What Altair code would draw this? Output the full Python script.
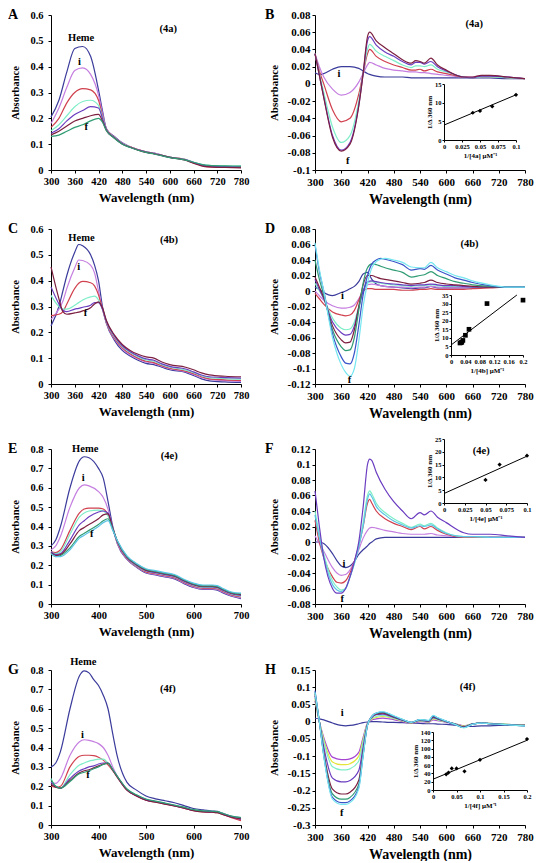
import altair as alt
import pandas as pd

FONT = "Liberation Serif"

# ---------------- Panel A (4a absolute spectra) ----------------
A_WL = [300,320,340,360,380,400,420,430,440,460,480,500,540,560,600,640,660,680,700,740,780]
A_HEME = [0.205,0.27,0.38,0.47,0.478,0.44,0.31,0.23,0.16,0.13,0.105,0.09,0.07,0.065,0.05,0.04,0.03,0.02,0.015,0.012,0.012]
A_I = [0.18,0.24,0.32,0.385,0.395,0.37,0.29,0.22,0.16,0.128,0.104,0.09,0.07,0.065,0.05,0.04,0.028,0.02,0.015,0.012,0.01]
A_RED = [0.165,0.2,0.26,0.3,0.315,0.31,0.27,0.21,0.158,0.127,0.103,0.09,0.07,0.064,0.05,0.04,0.027,0.018,0.012,0.01,0.01]
A_MINT = [0.152,0.175,0.21,0.245,0.265,0.27,0.25,0.205,0.156,0.126,0.103,0.089,0.069,0.064,0.05,0.04,0.03,0.022,0.018,0.016,0.015]
A_PURPLE = [0.142,0.16,0.19,0.215,0.23,0.245,0.24,0.2,0.155,0.125,0.102,0.088,0.069,0.063,0.049,0.039,0.028,0.02,0.015,0.013,0.012]
A_MAROON = [0.136,0.15,0.17,0.19,0.2,0.21,0.215,0.19,0.153,0.124,0.101,0.088,0.068,0.063,0.049,0.038,0.026,0.016,0.012,0.01,0.008]
A_TEAL = [0.13,0.135,0.15,0.165,0.175,0.19,0.2,0.185,0.152,0.123,0.1,0.087,0.068,0.062,0.048,0.038,0.03,0.022,0.018,0.016,0.015]
A_NOTE_T = ["Heme", "i", "f", "(4a)"]
A_NOTE_X = [376, 372, 389, 596]
A_NOTE_Y = [0.51, 0.418, 0.167, 0.546]

# ---------------- Panel B (4a difference spectra) ----------------
B_WL = [300,310,320,340,360,380,400,410,420,425,440,460,480,500,520,530,540,550,565,580,600,640,660,680,700,740,780]
B_I = [0.013,0.011,0.012,0.017,0.02,0.02,0.018,0.015,0.012,0.011,0.009,0.008,0.008,0.008,0.007,0.007,0.007,0.007,0.007,0.007,0.007,0.007,0.007,0.007,0.007,0.006,0.006]
B_ORCHID = [0.035,0.02,0.008,-0.006,-0.013,-0.01,0.002,0.012,0.022,0.025,0.022,0.018,0.016,0.015,0.014,0.014,0.013,0.013,0.012,0.011,0.01,0.008,0.008,0.009,0.009,0.008,0.006]
B_RED = [0.035,0.015,0.0,-0.03,-0.044,-0.04,-0.012,0.012,0.035,0.04,0.032,0.026,0.022,0.019,0.016,0.016,0.017,0.015,0.017,0.014,0.012,0.008,0.007,0.008,0.008,0.007,0.006]
B_MINT = [0.035,0.012,-0.01,-0.05,-0.068,-0.06,-0.02,0.012,0.04,0.046,0.038,0.032,0.027,0.022,0.019,0.021,0.021,0.02,0.022,0.017,0.014,0.008,0.007,0.008,0.008,0.007,0.006]
B_PURPLE = [0.035,0.01,-0.015,-0.06,-0.077,-0.068,-0.025,0.012,0.05,0.055,0.045,0.037,0.032,0.026,0.022,0.025,0.025,0.023,0.026,0.02,0.015,0.008,0.007,0.009,0.009,0.008,0.006]
B_MAROON = [0.035,0.01,-0.016,-0.062,-0.078,-0.07,-0.026,0.012,0.055,0.06,0.05,0.042,0.035,0.028,0.024,0.027,0.026,0.024,0.03,0.022,0.016,0.008,0.008,0.01,0.01,0.008,0.006]
B_NOTE_T = ["i", "f", "(4a)"]
B_NOTE_X = [355, 375, 664]
B_NOTE_Y = [0.012, -0.089, 0.07]
B_IN_X = [0.04, 0.05, 0.067, 0.1]
B_IN_Y = [7.3, 7.8, 9.0, 12.1]
B_FIT_X = [0.0, 0.1]
B_FIT_Y = [4.0, 12.1]

# ---------------- Panel C (4b absolute) ----------------
C_WL = [300,320,330,340,360,370,380,400,410,420,430,440,460,480,500,520,540,560,580,600,640,660,680,700,740,780]
C_HEME = [0.225,0.3,0.36,0.42,0.51,0.54,0.535,0.5,0.46,0.4,0.3,0.235,0.17,0.13,0.108,0.092,0.08,0.075,0.065,0.055,0.045,0.033,0.02,0.012,0.008,0.006]
C_I = [0.25,0.29,0.32,0.37,0.45,0.48,0.478,0.46,0.43,0.36,0.29,0.235,0.175,0.136,0.113,0.097,0.085,0.08,0.069,0.059,0.048,0.037,0.025,0.018,0.013,0.01]
C_RED = [0.265,0.27,0.28,0.31,0.37,0.39,0.397,0.392,0.38,0.345,0.29,0.237,0.178,0.14,0.117,0.1,0.088,0.083,0.071,0.061,0.05,0.04,0.028,0.02,0.016,0.014]
C_MINT = [0.343,0.3,0.29,0.29,0.305,0.315,0.325,0.337,0.34,0.325,0.29,0.24,0.183,0.145,0.122,0.105,0.093,0.088,0.075,0.065,0.054,0.044,0.032,0.025,0.021,0.019]
C_PURPLE = [0.376,0.31,0.285,0.28,0.29,0.293,0.297,0.305,0.315,0.315,0.29,0.242,0.186,0.148,0.125,0.109,0.097,0.092,0.078,0.068,0.058,0.047,0.035,0.028,0.025,0.023]
C_MAROON = [0.453,0.33,0.28,0.27,0.275,0.278,0.283,0.295,0.31,0.318,0.295,0.246,0.19,0.153,0.13,0.115,0.105,0.1,0.085,0.075,0.065,0.055,0.043,0.035,0.03,0.028]
C_NOTE_T = ["Heme", "i", "f", "(4b)"]
C_NOTE_X = [377, 370, 387, 598]
C_NOTE_Y = [0.564, 0.454, 0.275, 0.557]

# ---------------- Panel D (4b difference) ----------------
D_WL = [300,310,320,340,360,370,380,390,400,410,420,430,440,450,460,480,500,520,540,550,565,580,600,620,640,660,700,740,780]
D_I = [0.005,0.002,-0.002,-0.006,-0.002,0.0,0.003,0.006,0.012,0.022,0.024,0.015,0.009,0.007,0.006,0.005,0.004,0.003,0.004,0.004,0.006,0.004,0.004,0.004,0.004,0.004,0.005,0.005,0.005]
D_ORCHID = [0.0,-0.006,-0.012,-0.019,-0.022,-0.022,-0.021,-0.018,-0.01,0.0,0.008,0.009,0.008,0.007,0.006,0.005,0.005,0.004,0.005,0.005,0.006,0.005,0.004,0.004,0.004,0.004,0.005,0.005,0.005]
D_RED = [-0.003,-0.01,-0.017,-0.027,-0.031,-0.032,-0.031,-0.025,-0.012,0.0,0.003,0.003,0.002,0.002,0.002,0.002,0.001,0.001,0.002,0.002,0.003,0.002,0.002,0.002,0.002,0.003,0.004,0.005,0.005]
D_MINT = [0.01,0.0,-0.01,-0.035,-0.048,-0.05,-0.049,-0.04,-0.02,0.0,0.01,0.012,0.011,0.01,0.009,0.008,0.007,0.006,0.007,0.007,0.008,0.007,0.006,0.006,0.006,0.005,0.005,0.005,0.005]
D_PURPLE = [0.015,0.002,-0.01,-0.04,-0.054,-0.057,-0.056,-0.045,-0.022,0.0,0.012,0.013,0.012,0.011,0.01,0.009,0.008,0.007,0.008,0.008,0.009,0.008,0.007,0.007,0.006,0.005,0.005,0.005,0.005]
D_MAROON = [0.018,0.005,-0.008,-0.045,-0.063,-0.067,-0.066,-0.05,-0.02,0.008,0.02,0.02,0.018,0.016,0.015,0.013,0.011,0.009,0.01,0.011,0.014,0.011,0.009,0.008,0.007,0.006,0.005,0.005,0.005]
D_TEAL = [0.04,0.015,-0.005,-0.05,-0.072,-0.077,-0.076,-0.06,-0.025,0.01,0.03,0.035,0.034,0.032,0.03,0.027,0.024,0.018,0.02,0.021,0.025,0.02,0.016,0.012,0.01,0.008,0.006,0.005,0.005]
D_BLUE = [0.06,0.025,0.0,-0.055,-0.085,-0.093,-0.094,-0.08,-0.045,-0.005,0.02,0.035,0.04,0.042,0.041,0.038,0.034,0.027,0.029,0.028,0.033,0.027,0.022,0.017,0.014,0.011,0.007,0.005,0.005]
D_CYAN = [0.062,0.028,0.0,-0.06,-0.095,-0.105,-0.11,-0.1,-0.065,-0.02,0.01,0.03,0.038,0.041,0.042,0.04,0.037,0.031,0.03,0.03,0.037,0.03,0.025,0.02,0.017,0.013,0.008,0.005,0.005]
D_NOTE_T = ["i", "f", "(4b)"]
D_NOTE_X = [363, 379, 653]
D_NOTE_Y = [-0.007, -0.115, 0.061]
D_IN_X = [0.025, 0.028, 0.03, 0.033, 0.04, 0.05, 0.1, 0.2]
D_IN_Y = [7.0, 7.2, 7.5, 8.5, 11.5, 15.0, 30.0, 32.0]
D_FIT_X = [0.0, 0.183]
D_FIT_Y = [5.8, 35.0]

# ---------------- Panel E (4e absolute) ----------------
E_WL = [300,310,320,340,360,370,380,400,410,420,430,440,460,480,500,520,540,560,580,600,620,640,650,660,680,700]
E_HEME = [0.3,0.33,0.4,0.6,0.74,0.76,0.755,0.7,0.65,0.53,0.4,0.31,0.23,0.19,0.16,0.15,0.14,0.13,0.105,0.085,0.075,0.075,0.072,0.06,0.04,0.028]
E_I = [0.28,0.3,0.35,0.5,0.6,0.615,0.61,0.58,0.55,0.49,0.39,0.31,0.232,0.192,0.163,0.153,0.143,0.133,0.108,0.088,0.078,0.078,0.075,0.063,0.043,0.032]
E_RED = [0.27,0.265,0.28,0.38,0.47,0.49,0.495,0.495,0.49,0.46,0.39,0.315,0.235,0.195,0.166,0.156,0.146,0.136,0.112,0.092,0.082,0.082,0.079,0.067,0.047,0.036]
E_MINT = [0.27,0.26,0.27,0.36,0.45,0.47,0.48,0.485,0.48,0.455,0.39,0.318,0.238,0.198,0.17,0.16,0.15,0.14,0.116,0.096,0.086,0.086,0.083,0.071,0.051,0.041]
E_PURPLE = [0.27,0.255,0.26,0.33,0.41,0.43,0.45,0.475,0.48,0.47,0.39,0.32,0.24,0.2,0.172,0.162,0.152,0.142,0.118,0.098,0.088,0.088,0.085,0.073,0.053,0.044]
E_MAROON = [0.265,0.25,0.255,0.31,0.38,0.395,0.41,0.44,0.46,0.465,0.39,0.322,0.242,0.203,0.175,0.165,0.155,0.145,0.121,0.101,0.091,0.091,0.088,0.076,0.056,0.048]
E_TEAL = [0.26,0.245,0.25,0.29,0.35,0.365,0.38,0.41,0.43,0.44,0.385,0.324,0.245,0.206,0.178,0.168,0.158,0.148,0.124,0.104,0.094,0.094,0.091,0.079,0.059,0.052]
E_LBLUE = [0.26,0.245,0.245,0.28,0.34,0.355,0.37,0.4,0.42,0.43,0.38,0.326,0.248,0.209,0.182,0.172,0.162,0.152,0.128,0.108,0.098,0.098,0.095,0.083,0.062,0.056]
E_NOTE_T = ["Heme", "i", "f", "(4e)"]
E_NOTE_X = [372, 368, 386, 549]
E_NOTE_Y = [0.8, 0.652, 0.36, 0.763]

# ---------------- Panel F (4e difference) ----------------
F_WL = [300,310,320,340,350,360,370,380,390,400,410,420,425,430,440,460,480,500,520,540,550,565,580,600,640,660,700,740,780]
F_I = [0.0,0.0,-0.002,-0.015,-0.024,-0.031,-0.033,-0.031,-0.025,-0.016,-0.01,-0.005,-0.002,0.0,0.004,0.006,0.006,0.006,0.006,0.006,0.006,0.006,0.006,0.006,0.006,0.006,0.006,0.006,0.006]
F_ORCHID = [0.008,-0.002,-0.012,-0.033,-0.04,-0.043,-0.042,-0.036,-0.025,-0.01,0.005,0.015,0.018,0.019,0.018,0.015,0.013,0.011,0.01,0.01,0.01,0.011,0.009,0.008,0.007,0.007,0.007,0.006,0.006]
F_RED = [0.028,0.0,-0.02,-0.045,-0.052,-0.053,-0.05,-0.04,-0.025,-0.005,0.02,0.05,0.055,0.05,0.04,0.03,0.024,0.02,0.016,0.02,0.017,0.02,0.015,0.01,0.006,0.006,0.006,0.006,0.006]
F_MINT = [0.04,0.01,-0.015,-0.05,-0.058,-0.062,-0.06,-0.045,-0.028,-0.005,0.025,0.06,0.066,0.062,0.05,0.038,0.03,0.024,0.019,0.023,0.021,0.024,0.018,0.012,0.007,0.007,0.006,0.006,0.006]
F_LBLUE = [0.035,0.005,-0.02,-0.055,-0.062,-0.064,-0.06,-0.045,-0.028,-0.006,0.02,0.055,0.062,0.058,0.046,0.035,0.027,0.022,0.018,0.021,0.02,0.022,0.017,0.011,0.007,0.007,0.006,0.006,0.006]
F_PURPLE = [0.066,0.02,-0.02,-0.06,-0.066,-0.066,-0.06,-0.045,-0.025,0.0,0.045,0.1,0.107,0.105,0.09,0.068,0.052,0.04,0.03,0.038,0.035,0.04,0.032,0.025,0.012,0.01,0.01,0.008,0.006]
F_NOTE_T = ["i", "f", "(4e)"]
F_NOTE_X = [366, 362, 680]
F_NOTE_Y = [-0.029, -0.073, 0.117]
F_IN_X = [0.05, 0.067, 0.1]
F_IN_Y = [9.0, 15.0, 18.5]
F_FIT_X = [0.0, 0.1]
F_FIT_Y = [3.7, 18.3]

# ---------------- Panel G (4f absolute) ----------------
G_WL = [300,310,320,340,360,370,380,390,400,410,420,430,440,460,480,500,520,540,560,580,600,620,640,650,660,680,700]
G_HEME = [0.3,0.32,0.38,0.6,0.77,0.795,0.785,0.75,0.72,0.67,0.6,0.47,0.35,0.22,0.18,0.15,0.135,0.125,0.115,0.1,0.085,0.078,0.072,0.07,0.062,0.045,0.038]
G_I = [0.22,0.215,0.24,0.36,0.43,0.44,0.437,0.43,0.42,0.4,0.36,0.3,0.25,0.18,0.15,0.13,0.12,0.11,0.1,0.088,0.075,0.07,0.068,0.066,0.058,0.04,0.025]
G_RED = [0.2,0.195,0.2,0.3,0.355,0.36,0.36,0.358,0.35,0.335,0.31,0.28,0.245,0.18,0.15,0.128,0.118,0.108,0.098,0.087,0.074,0.068,0.066,0.064,0.056,0.038,0.022]
G_MINT = [0.24,0.2,0.19,0.26,0.31,0.32,0.33,0.335,0.34,0.34,0.32,0.285,0.25,0.185,0.155,0.133,0.122,0.112,0.102,0.091,0.078,0.072,0.07,0.068,0.06,0.044,0.035]
G_PURPLE = [0.22,0.2,0.19,0.24,0.28,0.29,0.3,0.305,0.315,0.32,0.32,0.285,0.248,0.182,0.152,0.13,0.12,0.11,0.1,0.089,0.076,0.07,0.068,0.066,0.058,0.042,0.03]
G_MAROON = [0.21,0.195,0.19,0.23,0.27,0.28,0.285,0.295,0.305,0.315,0.318,0.283,0.246,0.18,0.15,0.128,0.118,0.108,0.098,0.087,0.074,0.068,0.066,0.064,0.056,0.04,0.032]
G_TEAL = [0.235,0.2,0.19,0.225,0.265,0.272,0.28,0.29,0.3,0.312,0.32,0.286,0.25,0.186,0.156,0.134,0.123,0.113,0.103,0.092,0.079,0.073,0.071,0.069,0.061,0.046,0.038]
G_NOTE_T = ["Heme", "i", "f", "(4f)"]
G_NOTE_X = [368, 366, 378, 546]
G_NOTE_Y = [0.843, 0.4625, 0.26, 0.70]

# ---------------- Panel H (4f difference) ----------------
H_WL = [300,310,320,340,360,370,380,400,410,420,430,440,455,470,480,500,520,540,560,570,580,600,620,640,660,680,700,740,780]
H_I = [0.01,0.008,0.005,-0.004,-0.011,-0.012,-0.011,-0.006,-0.003,-0.001,0.0,0.0,-0.001,-0.002,-0.002,-0.003,-0.004,-0.005,-0.006,-0.006,-0.007,-0.008,-0.01,-0.012,-0.014,-0.012,-0.012,-0.01,-0.01]
H_MAGENTA = [0.06,0.0,-0.046,-0.103,-0.11,-0.11,-0.108,-0.089,-0.046,-0.004,0.005,0.008,0.01,0.008,0.006,0.0,-0.004,0.0,-0.002,0.005,0.003,-0.002,-0.006,-0.012,-0.006,-0.004,-0.005,-0.008,-0.01]
H_YELLOW = [0.065,0.0,-0.052,-0.117,-0.125,-0.125,-0.122,-0.1,-0.052,-0.005,0.008,0.012,0.015,0.012,0.009,0.002,-0.004,0.002,-0.001,0.008,0.005,-0.001,-0.006,-0.013,-0.006,-0.004,-0.005,-0.008,-0.01]
H_MINT = [0.07,0.0,-0.058,-0.131,-0.14,-0.14,-0.137,-0.114,-0.058,-0.006,0.01,0.015,0.018,0.014,0.01,0.003,-0.003,0.003,0.0,0.01,0.006,0.0,-0.006,-0.014,-0.006,-0.004,-0.005,-0.008,-0.01]
H_PURPLE = [0.075,0.0,-0.073,-0.164,-0.175,-0.175,-0.171,-0.142,-0.073,-0.007,0.012,0.02,0.022,0.017,0.012,0.004,-0.003,0.004,0.001,0.012,0.008,0.0,-0.007,-0.015,-0.007,-0.004,-0.006,-0.009,-0.011]
H_MAROON = [0.08,0.0,-0.088,-0.196,-0.21,-0.21,-0.205,-0.17,-0.088,-0.009,0.014,0.022,0.025,0.019,0.014,0.005,-0.003,0.005,0.002,0.014,0.009,0.001,-0.007,-0.016,-0.007,-0.004,-0.006,-0.009,-0.011]
H_TEAL = [0.085,0.0,-0.094,-0.21,-0.225,-0.225,-0.22,-0.182,-0.094,-0.01,0.015,0.024,0.027,0.021,0.015,0.006,-0.002,0.006,0.003,0.016,0.01,0.001,-0.008,-0.017,-0.007,-0.004,-0.006,-0.009,-0.012]
H_BLUE = [0.09,0.0,-0.098,-0.22,-0.235,-0.235,-0.23,-0.19,-0.098,-0.01,0.016,0.025,0.028,0.022,0.016,0.006,-0.002,0.006,0.003,0.017,0.011,0.001,-0.008,-0.017,-0.007,-0.004,-0.006,-0.009,-0.012]
H_CYAN = [0.085,0.0,-0.1,-0.225,-0.24,-0.24,-0.235,-0.195,-0.1,-0.01,0.015,0.025,0.029,0.023,0.017,0.007,-0.002,0.006,0.004,0.018,0.012,0.002,-0.008,-0.018,-0.008,-0.004,-0.006,-0.009,-0.012]
H_NOTE_T = ["i", "f", "(4f)"]
H_NOTE_X = [362, 361, 649]
H_NOTE_Y = [0.025, -0.266, 0.10]
H_IN_X = [0.028, 0.033, 0.04, 0.05, 0.067, 0.1, 0.2]
H_IN_Y = [38.0, 42.0, 52.0, 52.0, 45.0, 73.0, 123.0]
H_FIT_X = [0.0, 0.2]
H_FIT_Y = [26.0, 120.0]

# ---------------- tick labels ----------------
X_TICKS_FULL = [300, 360, 420, 480, 540, 600, 660, 720, 780]
X_TICKS_SHORT = [300, 400, 500, 600, 700]
A_YTICKS = [0, 0.1, 0.2, 0.3, 0.4, 0.5, 0.6]
E_YTICKS = [0, 0.1, 0.2, 0.3, 0.4, 0.5, 0.6, 0.7, 0.8]
B_YTICKS = [-0.1, -0.08, -0.06, -0.04, -0.02, 0, 0.02, 0.04, 0.06, 0.08]
D_YTICKS = [-0.12, -0.1, -0.08, -0.06, -0.04, -0.02, 0, 0.02, 0.04, 0.06, 0.08]
F_YTICKS = [-0.08, -0.06, -0.04, -0.02, 0, 0.02, 0.04, 0.06, 0.08, 0.1, 0.12]
H_YTICKS = [-0.3, -0.25, -0.2, -0.15, -0.1, -0.05, 0, 0.05, 0.1, 0.15]
B_IN_XT = [0, 0.025, 0.05, 0.075, 0.1]
B_IN_YT = [0, 5, 10, 15]
D_IN_XT = [0, 0.04, 0.08, 0.12, 0.16, 0.2]
D_IN_YT = [0, 5, 10, 15, 20, 25, 30, 35]
F_IN_XT = [0, 0.025, 0.05, 0.075, 0.1]
F_IN_YT = [0, 5, 10, 15, 20, 25]
H_IN_XT = [0, 0.05, 0.1, 0.15, 0.2]
H_IN_YT = [0, 20, 40, 60, 80, 100, 120, 140]

# ---------------- colours (style) ----------------
NAVY = "#3b3b9c"
ORCHID = "#c57ee0"
RED = "#d0404e"
MINT = "#7eeec8"
PURPLE = "#6a3cc0"
MAROON = "#7c1f40"
TEAL = "#2f9c74"
LBLUE = "#5cc4e6"
BLUE = "#3a55c8"
CYAN = "#76e6f0"
YELLOW = "#e4e43a"
MAGENTA = "#a545d2"

LABEL = "'' + datum.value"


def spectra_frame(wl, series):
    rows = []
    for name, vals in series:
        for w, v in zip(wl, vals):
            rows.append({"wl": w, "ab": v, "s": name})
    return pd.DataFrame(rows)


def panel(p):
    W, H = p["w"], p["h"]
    names = [n for n, _ in p["series"]]
    df = spectra_frame(p["wl"], p["series"])
    xs = alt.Scale(domain=p["xdom"], nice=False, zero=False)
    ys = alt.Scale(domain=p["ydom"], nice=False, zero=False)
    xax = alt.Axis(values=p["xticks"], title="Wavelength (nm)", labelFontSize=p["lfs"],
                   titleFontSize=p["xtfs"], labelExpr=LABEL, labelFlush=False,
                   labelOverlap=False, tickSize=3, labelPadding=3, titlePadding=5)
    yax = alt.Axis(values=p["yticks"], title="Absorbance", labelFontSize=p["lfs"],
                   titleFontSize=p["ytfs"], labelExpr=LABEL, labelFlush=False,
                   labelOverlap=False, tickSize=3, labelPadding=p["ylp"], titlePadding=p["ytp"])
    lines = alt.Chart(df).mark_line(strokeWidth=1.2, interpolate="monotone").encode(
        x=alt.X("wl:Q", scale=xs, axis=xax),
        y=alt.Y("ab:Q", scale=ys, axis=yax),
        color=alt.Color("s:N", scale=alt.Scale(domain=names, range=p["colors"]), legend=None),
    )
    notes_df = pd.DataFrame({"wl": p["nx"], "ab": p["ny"], "t": p["nt"]})
    notes = alt.Chart(notes_df).mark_text(font=FONT, fontWeight="bold", fontSize=10.5,
                                          color="black").encode(
        x=alt.X("wl:Q", scale=xs, axis=xax), y=alt.Y("ab:Q", scale=ys, axis=yax), text="t:N")
    letter = alt.Chart(pd.DataFrame({"t": [p["letter"]]})).mark_text(
        font=FONT, fontWeight="bold", fontSize=14, align="left", baseline="top",
        color="black").encode(x=alt.value(p["lx"]), y=alt.value(-7), text="t:N")
    main = alt.layer(lines, notes, letter)
    if "inset" not in p:
        return main.properties(width=W, height=H)
    ins = p["inset"]
    x0, x1, y0, y1 = ins["box"]
    ixs = alt.Scale(domain=ins["xdom"], range=[x0, x1], nice=False, zero=False)
    iys = alt.Scale(domain=ins["ydom"], range=[y1, y0], nice=False, zero=False)
    ixax = alt.Axis(orient="bottom", offset=-(H - y1), values=ins["xt"], title=ins["xtitle"],
                    labelFontSize=6.5, titleFontSize=7, tickSize=2, labelPadding=1,
                    titlePadding=2, labelFlush=False, labelOverlap=False, labelExpr=LABEL)
    iyax = alt.Axis(orient="left", offset=-x0, values=ins["yt"], title="1/\u0394 360 nm",
                    labelFontSize=6.5, titleFontSize=7, tickSize=2, labelPadding=1,
                    titlePadding=2, labelFlush=False, labelOverlap=False, labelExpr=LABEL)
    fit = alt.Chart(pd.DataFrame({"ix": ins["fx"], "iy": ins["fy"]})).mark_line(
        color="black", strokeWidth=1).encode(
        x=alt.X("ix:Q", scale=ixs, axis=ixax), y=alt.Y("iy:Q", scale=iys, axis=iyax))
    pts = alt.Chart(pd.DataFrame({"ix": ins["px"], "iy": ins["py"]})).mark_point(
        shape=ins["shape"], filled=True, size=ins["size"], color="black", opacity=1).encode(
        x=alt.X("ix:Q", scale=ixs, axis=ixax), y=alt.Y("iy:Q", scale=iys, axis=iyax))
    inset = alt.layer(fit, pts)
    return alt.layer(main, inset).resolve_scale(x="independent", y="independent").properties(
        width=W, height=H)


LEFT = dict(w=190, h=155, lfs=10.5, xtfs=13, ytfs=10.5, ylp=5, ytp=9, lx=-43)
RIGHT = dict(w=210, h=155, lfs=11, xtfs=14, ytfs=11, ylp=2, ytp=8, lx=-50)

pA = dict(LEFT, letter="A", wl=A_WL, xdom=[300, 780], xticks=X_TICKS_FULL, ydom=[0, 0.6], yticks=A_YTICKS,
          series=[("heme", A_HEME), ("i", A_I), ("c3", A_RED), ("c4", A_MINT), ("c5", A_PURPLE),
                  ("c6", A_MAROON), ("f", A_TEAL)],
          colors=[NAVY, ORCHID, RED, MINT, PURPLE, MAROON, TEAL],
          nt=A_NOTE_T, nx=A_NOTE_X, ny=A_NOTE_Y)
pB = dict(RIGHT, letter="B", wl=B_WL, xdom=[300, 780], xticks=X_TICKS_FULL, ydom=[-0.1, 0.08], yticks=B_YTICKS,
          series=[("i", B_I), ("c2", B_ORCHID), ("c3", B_RED), ("c4", B_MINT), ("c5", B_PURPLE), ("f", B_MAROON)],
          colors=[NAVY, ORCHID, RED, MINT, PURPLE, MAROON],
          nt=B_NOTE_T, nx=B_NOTE_X, ny=B_NOTE_Y,
          inset=dict(box=(129, 201, 69, 125), xdom=[0, 0.1], ydom=[0, 15], xt=B_IN_XT, yt=B_IN_YT,
                     xtitle="1/[4a] \u03bcM\u207b\u00b9", fx=B_FIT_X, fy=B_FIT_Y, px=B_IN_X, py=B_IN_Y,
                     shape="diamond", size=18))
pC = dict(LEFT, letter="C", wl=C_WL, xdom=[300, 780], xticks=X_TICKS_FULL, ydom=[0, 0.6], yticks=A_YTICKS,
          series=[("heme", C_HEME), ("i", C_I), ("c3", C_RED), ("c4", C_MINT), ("c5", C_PURPLE), ("f", C_MAROON)],
          colors=[NAVY, ORCHID, RED, MINT, PURPLE, MAROON],
          nt=C_NOTE_T, nx=C_NOTE_X, ny=C_NOTE_Y)
pD = dict(RIGHT, letter="D", wl=D_WL, xdom=[300, 780], xticks=X_TICKS_FULL, ydom=[-0.12, 0.08], yticks=D_YTICKS,
          series=[("i", D_I), ("c2", D_ORCHID), ("c3", D_RED), ("c4", D_MINT), ("c5", D_PURPLE),
                  ("c6", D_MAROON), ("c7", D_TEAL), ("c8", D_BLUE), ("f", D_CYAN)],
          colors=[NAVY, ORCHID, RED, MINT, PURPLE, MAROON, TEAL, BLUE, CYAN],
          nt=D_NOTE_T, nx=D_NOTE_X, ny=D_NOTE_Y,
          inset=dict(box=(136, 208, 66, 126), xdom=[0, 0.2], ydom=[0, 35], xt=D_IN_XT, yt=D_IN_YT,
                     xtitle="1/[4b] \u03bcM\u207b\u00b9", fx=D_FIT_X, fy=D_FIT_Y, px=D_IN_X, py=D_IN_Y,
                     shape="square", size=22))
pE = dict(LEFT, letter="E", wl=E_WL, xdom=[300, 700], xticks=X_TICKS_SHORT, ydom=[0, 0.8], yticks=E_YTICKS,
          series=[("heme", E_HEME), ("i", E_I), ("c3", E_RED), ("c4", E_MINT), ("c5", E_PURPLE),
                  ("c6", E_MAROON), ("c7", E_TEAL), ("f", E_LBLUE)],
          colors=[NAVY, ORCHID, RED, MINT, PURPLE, MAROON, TEAL, LBLUE],
          nt=E_NOTE_T, nx=E_NOTE_X, ny=E_NOTE_Y)
pF = dict(RIGHT, letter="F", wl=F_WL, xdom=[300, 780], xticks=X_TICKS_FULL, ydom=[-0.08, 0.12], yticks=F_YTICKS,
          series=[("i", F_I), ("c2", F_ORCHID), ("c3", F_RED), ("c4", F_MINT), ("c5", F_LBLUE), ("f", F_PURPLE)],
          colors=[NAVY, ORCHID, RED, MINT, LBLUE, PURPLE],
          nt=F_NOTE_T, nx=F_NOTE_X, ny=F_NOTE_Y,
          inset=dict(box=(129, 212, -10, 54), xdom=[0, 0.1], ydom=[0, 25], xt=F_IN_XT, yt=F_IN_YT,
                     xtitle="1/[4e] \u03bcM\u207b\u00b9", fx=F_FIT_X, fy=F_FIT_Y, px=F_IN_X, py=F_IN_Y,
                     shape="diamond", size=18))
pG = dict(LEFT, letter="G", wl=G_WL, xdom=[300, 700], xticks=X_TICKS_SHORT, ydom=[0, 0.8], yticks=E_YTICKS,
          series=[("heme", G_HEME), ("i", G_I), ("c3", G_RED), ("c4", G_MINT), ("c5", G_PURPLE),
                  ("c6", G_MAROON), ("f", G_TEAL)],
          colors=[NAVY, ORCHID, RED, MINT, PURPLE, MAROON, TEAL],
          nt=G_NOTE_T, nx=G_NOTE_X, ny=G_NOTE_Y)
pH = dict(RIGHT, letter="H", wl=H_WL, xdom=[300, 780], xticks=X_TICKS_FULL, ydom=[-0.3, 0.15], yticks=H_YTICKS,
          series=[("i", H_I), ("c2", H_MAGENTA), ("c3", H_YELLOW), ("c4", H_MINT), ("c5", H_PURPLE),
                  ("c6", H_MAROON), ("c7", H_TEAL), ("c8", H_BLUE), ("f", H_CYAN)],
          colors=[NAVY, MAGENTA, YELLOW, MINT, PURPLE, MAROON, TEAL, BLUE, CYAN],
          nt=H_NOTE_T, nx=H_NOTE_X, ny=H_NOTE_Y,
          inset=dict(box=(118, 212, 62, 120), xdom=[0, 0.2], ydom=[0, 140], xt=H_IN_XT, yt=H_IN_YT,
                     xtitle="1/[4f] \u03bcM\u207b\u00b9", fx=H_FIT_X, fy=H_FIT_Y, px=H_IN_X, py=H_IN_Y,
                     shape="diamond", size=18))

rows = [alt.hconcat(panel(a), panel(b), spacing=16).resolve_scale(color="independent")
        for a, b in [(pA, pB), (pC, pD), (pE, pF), (pG, pH)]]

chart = alt.vconcat(*rows, spacing=16).resolve_scale(color="independent").properties(
    padding={"left": 0, "top": 0, "right": 0, "bottom": 0}
).configure_view(stroke=None).configure_axis(
    grid=False, domainColor="black", tickColor="black", labelColor="black", titleColor="black",
    labelFont=FONT, titleFont=FONT, labelFontWeight="bold", titleFontWeight="bold",
    domainWidth=1, tickWidth=1
)

chart.save("out.html", embed_options={"renderer": "svg", "actions": False})
